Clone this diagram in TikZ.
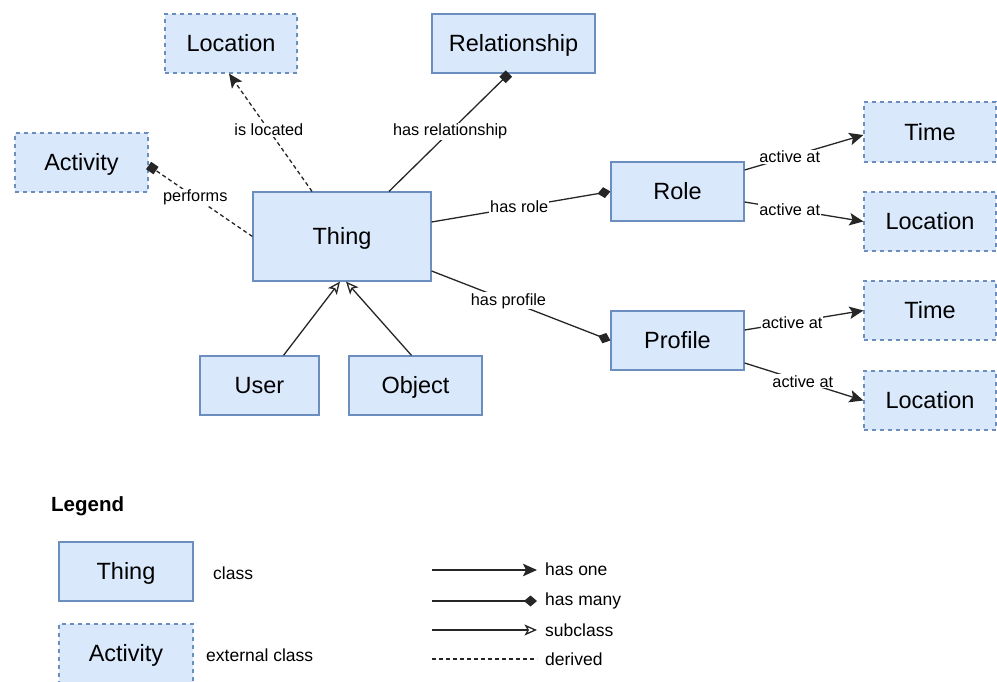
\documentclass[tikz,border=0pt]{standalone}
\usepackage{fontspec}
\setmainfont{Liberation Sans}
\usetikzlibrary{arrows.meta}
\definecolor{boxfill}{HTML}{DAE8FC}
\definecolor{boxline}{HTML}{6C8EBF}

\begin{document}
\begin{tikzpicture}[x=1pt,y=-1pt,
  cls/.style={draw=boxline, fill=boxfill, line width=1.2pt, minimum height=59pt,
    inner sep=0pt, text height=16.8pt, text depth=0pt,
    font=\fontsize{23.5}{27}\selectfont},
  ext/.style={cls, dash pattern=on 4pt off 4pt},
  conn/.style={line width=1.3pt, draw=black!85},
  lbl/.style={fill=white, inner sep=1pt, font=\fontsize{16.3}{18}\selectfont},
  legtxt/.style={inner sep=0pt, font=\fontsize{17.5}{20}\selectfont},
  hasone/.style={conn, -{Stealth[length=14pt,width=12.5pt,inset=3pt]}},
  hasmany/.style={conn, -{Diamond[length=13pt,width=11pt]}},
  hasmanysq/.style={conn, -{Square[length=9pt,width=9pt]}},
  subcls/.style={conn, -{Stealth[open,length=12.5pt,width=11pt,inset=3pt]}},
  derived/.style={dash pattern=on 4pt off 3pt}
]
\useasboundingbox (0,0) rectangle (997,682);

% classes
\node[ext, minimum width=132pt] (locTop) at (231,43.5) {Location};
\node[cls, minimum width=163pt] (rel) at (513.5,43.5) {Relationship};
\node[ext, minimum width=133pt] (act) at (81.5,162.5) {Activity};
\node[cls, minimum width=178pt, minimum height=89pt] (thing) at (342,236.5) {Thing};
\node[cls, minimum width=133pt] (role) at (677.5,191.5) {Role};
\node[cls, minimum width=133pt] (profile) at (677.5,340.5) {Profile};
\node[ext, minimum width=132pt, minimum height=60pt] (timeA) at (930,132) {Time};
\node[ext, minimum width=132pt] (locA) at (930,221.5) {Location};
\node[ext, minimum width=132pt] (timeB) at (930,310.5) {Time};
\node[ext, minimum width=132pt] (locB) at (930,400.5) {Location};
\node[cls, minimum width=119pt] (user) at (259.5,385.5) {User};
\node[cls, minimum width=133pt] (object) at (415.5,385.5) {Object};

% relations of Thing
\draw[hasone, derived] ([xshift=-30pt]thing.north) -- node[lbl, pos=0.52] {is located} ([xshift=-2pt]locTop.south);
\draw[hasmanysq] ([xshift=47pt]thing.north) -- node[lbl, pos=0.51] {has relationship} ([xshift=-4.5pt]rel.south);
\draw[hasmanysq, derived] (thing.west) -- node[lbl, pos=0.55] {performs} ([yshift=-3pt]act.east);
\draw[hasmany] ([yshift=14.5pt]thing.east) -- node[lbl, pos=0.49] {has role} (role.west);
\draw[hasmany] ([yshift=-34.5pt]thing.east) -- node[lbl, pos=0.43] {has profile} (profile.west);
\draw[subcls] ([xshift=24pt]user.north) -- ([xshift=-2pt]thing.south);
\draw[subcls] ([xshift=-4pt]object.north) -- ([xshift=4pt]thing.south);

% time and place of roles and profiles
\draw[hasone] ([yshift=21.5pt]role.east) -- node[lbl, pos=0.38] {active at} ([yshift=-3pt]timeA.west);
\draw[hasone] ([yshift=-10.5pt]role.east) -- node[lbl, pos=0.38] {active at} (locA.west);
\draw[hasone] ([yshift=10.5pt]profile.east) -- node[lbl, pos=0.40] {active at} (timeB.west);
\draw[hasone] ([yshift=-22.5pt]profile.east) -- node[lbl, pos=0.49] {active at} (locB.west);

% legend
\node[anchor=west, inner sep=0pt, font=\bfseries\fontsize{20.5}{24}\selectfont] (legTitle) at (51,506) {Legend};
\node[cls, minimum width=134pt] (legCls) at (126,571.5) {Thing};
\node[ext, minimum width=134pt] (legExt) at (126,653.5) {Activity};
\node[legtxt, anchor=west] (legClsTxt) at (213,573) {class};
\node[legtxt, anchor=west] (legExtTxt) at (206,655) {external class};

\node[legtxt, anchor=west] (legOne) at (545,569) {has one};
\node[legtxt, anchor=west] (legMany) at (545,601) {has many};
\node[legtxt, anchor=west] (legSub) at (545,630) {subclass};
\node[legtxt, anchor=west] (legDer) at (545,659) {derived};
\coordinate (s1) at (432,570);
\coordinate (s2) at (432,601);
\coordinate (s3) at (432,630);
\coordinate (s4) at (432,659);
\draw[hasone] (s1) -- ([xshift=-8pt]legOne.west |- s1);
\draw[hasmany] (s2) -- ([xshift=-8pt]legMany.west |- s2);
\draw[subcls] (s3) -- ([xshift=-8pt]legSub.west |- s3);
\draw[conn, derived] (s4) -- ([xshift=-8pt]legDer.west |- s4);
\end{tikzpicture}
\end{document}
